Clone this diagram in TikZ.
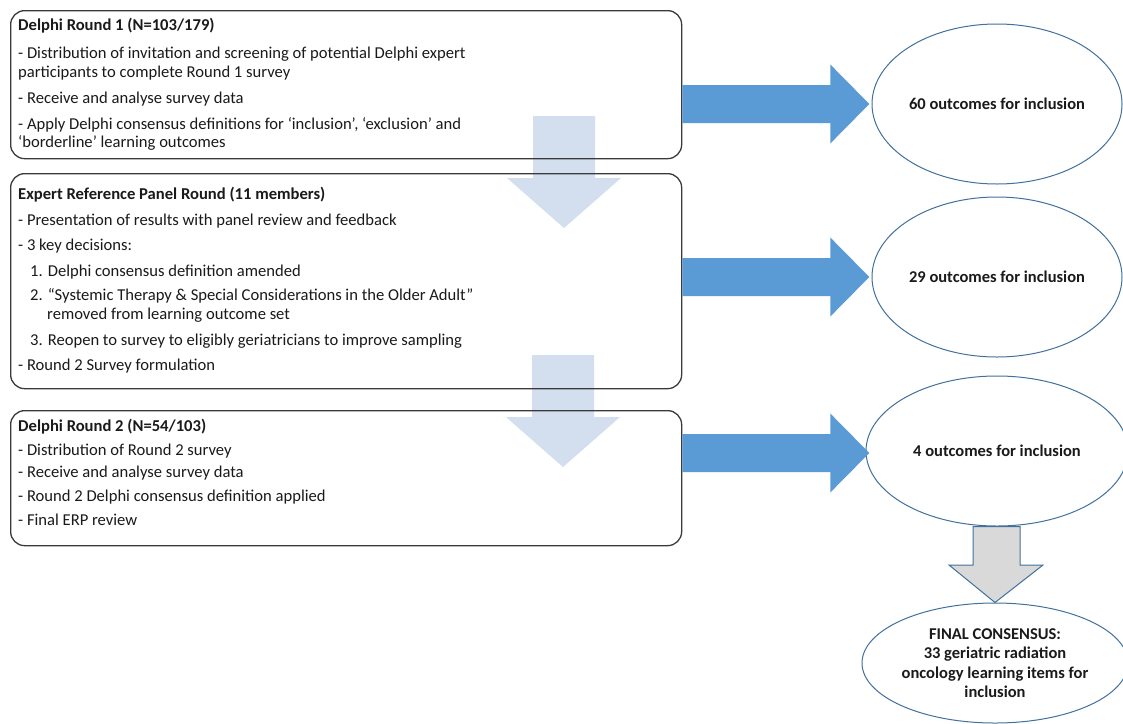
\documentclass[tikz,border=0pt]{standalone}
\usepackage{fontspec}
\setmainfont{Carlito}
\usetikzlibrary{shapes.geometric}
\definecolor{boxline}{HTML}{3A3A3A}
\definecolor{ovalline}{HTML}{41719C}
\definecolor{bluearr}{HTML}{5B9BD5}
\definecolor{lightarr}{HTML}{D3DEEF}
\definecolor{grayarr}{HTML}{D9D9D9}
\definecolor{txtcol}{HTML}{1A1A1A}
\tikzset{
  panel/.style={draw=boxline, line width=1.3pt, rounded corners=14pt, anchor=north west, inner sep=0pt},
  txt/.style={anchor=base west, inner sep=0pt, text=txtcol, font=\fontsize{16.6}{19}\selectfont},
  ttl/.style={txt, font=\bfseries\fontsize{16.6}{19}\selectfont},
  oval/.style={draw=ovalline, line width=1pt, ellipse, inner sep=0pt, fill=white, text=txtcol, align=center, font=\bfseries\fontsize{16.5}{19.5}\selectfont},
  rarrow/.pic={\fill[bluearr] (0,-19) -- (148,-19) -- (148,-39.5) -- (187,0) -- (148,39.5) -- (148,19) -- (0,19) -- cycle;},
  darrow/.pic={\fill[lightarr] (-31,0) -- (31,0) -- (31,62) -- (57,62) -- (0,112) -- (-57,62) -- (-31,62) -- cycle;}
}
\begin{document}
\begin{tikzpicture}[x=1pt,y=-1pt]
\useasboundingbox (0,0) rectangle (1123,723);
\fill[white] (0,0) rectangle (1123,723);

% light down arrows (behind panels)
\pic at (564,116) {darrow};
\pic at (563,355) {darrow};

% panels
\node[panel, minimum width=671pt, minimum height=148pt] (b1) at (10,10) {};
\node[panel, minimum width=671pt, minimum height=215pt] (b2) at (10,173) {};
\node[panel, minimum width=671pt, minimum height=135pt] (b3) at (10,410) {};

% panel 1 text
\node[ttl] (b1t) at (18,30.5) {Delphi Round 1 (N=103/179)};
\node[txt] (b1a) at (18,58) {- Distribution of invitation and screening of potential Delphi expert};
\node[txt] (b1b) at (18,77) {participants to complete Round 1 survey};
\node[txt] (b1c) at (18,103) {- Receive and analyse survey data};
\node[txt] (b1d) at (18,129) {- Apply Delphi consensus definitions for ‘inclusion’, ‘exclusion’ and};
\node[txt] (b1e) at (18,147) {‘borderline’ learning outcomes};

% panel 2 text
\node[ttl] (b2t) at (18,199) {Expert Reference Panel Round (11 members)};
\node[txt] (b2a) at (18,225) {- Presentation of results with panel review and feedback};
\node[txt] (b2b) at (18,250) {- 3 key decisions:};
\node[txt] (b2c) at (30,276) {1. Delphi consensus definition amended};
\node[txt] (b2d) at (30,300) {2. “Systemic Therapy \& Special Considerations in the Older Adult”};
\node[txt] (b2e) at (47,319) {removed from learning outcome set};
\node[txt] (b2f) at (30,345) {3. Reopen to survey to eligibly geriatricians to improve sampling};
\node[txt] (b2g) at (18,370) {- Round 2 Survey formulation};

% panel 3 text
\node[ttl] (b3t) at (18,431) {Delphi Round 2 (N=54/103)};
\node[txt] (b3a) at (18,455) {- Distribution of Round 2 survey};
\node[txt] (b3b) at (18,477.5) {- Receive and analyse survey data};
\node[txt] (b3c) at (18,501) {- Round 2 Delphi consensus definition applied};
\node[txt] (b3d) at (18,525) {- Final ERP review};

% ovals
\node[oval, minimum width=250pt, minimum height=160pt] (e1) at (997,104) {60 outcomes for inclusion};
\node[oval, minimum width=250pt, minimum height=160pt] (e2) at (997,277) {29 outcomes for inclusion};
\node[oval, minimum width=262pt, minimum height=150pt] (e3) at (997,451) {4 outcomes for inclusion};
\node[oval, minimum width=266pt, minimum height=120pt] (e4) at (995,663) {FINAL CONSENSUS:\\33 geriatric radiation\\oncology learning items for\\inclusion};

% gray down arrow from oval 3 to oval 4
\filldraw[fill=grayarr, draw=ovalline, line width=1pt]
  (973,526.5) -- (1020,526.5) -- (1020,565) -- (1043,565) -- (e4.north) -- (949,565) -- (973,565) -- cycle;

% blue right arrows from panels to ovals
\pic at (b1.east |- e1.center) {rarrow};
\pic at (b2.east |- e2.center) {rarrow};
\pic at (b3.east |- 0,453) {rarrow};
\end{tikzpicture}
\end{document}
